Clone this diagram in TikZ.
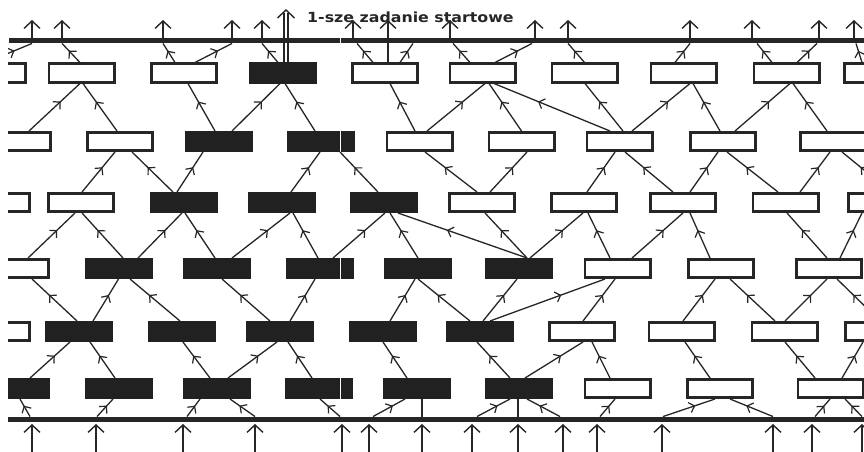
\documentclass[tikz,border=0pt]{standalone}
\usepackage{fontspec}
\usepackage{graphicx}
\usetikzlibrary{arrows.meta,calc,decorations.markings}
\newfontfamily\labelfont{DejaVu Sans}
\definecolor{ink}{gray}{0.15}
\definecolor{inkfill}{gray}{0.13}

% link from the top of a lower box to the bottom of an upper box
\newcommand{\lk}[4]{\draw[link] ($(#1.north)+(#2,0)$) -- ($(#3.south)+(#4,0)$);}
% link from the top of a first-row box to the output bus
\newcommand{\tb}[3]{\draw[link] ($(#1.north)+(#2,0)$) -- (#3,0 |- topbar.south);}
% link from the input bus to the bottom of a last-row box
\newcommand{\bb}[3]{\draw[link] (#1,0 |- botbar.north) -- ($(#2.south)+(#3,0)$);}

\begin{document}
\begin{tikzpicture}[x=1pt,y=-1pt,
  task/.style={draw=ink, line width=2.8pt, fill=white, minimum width=65.2pt,
    minimum height=18.2pt, inner sep=0pt},
  busy/.style={task, fill=inkfill, draw=inkfill},
  bar/.style={fill=ink, draw=none, minimum height=5.5pt, inner sep=0pt},
  link/.style={draw=ink, line width=1.3pt, postaction={decorate},
    decoration={markings, mark=at position 0.62 with
      {\arrow[ink, line width=1.2pt]{Straight Barb[length=5pt,width=10.5pt]}}}},
  wire/.style={draw=ink, line width=1.4pt},
  feed/.style={draw=ink, line width=1.5pt,
    -{Straight Barb[length=7.5pt,width=16pt,line width=1.4pt]}},
]
\useasboundingbox (0,0) rectangle (864,452);
\fill[white] (0,0) rectangle (864,452);
\clip (8,0) rectangle (864,452);

% buses
\node[bar, minimum width=855pt, anchor=west] (topbar) at (9,40.5) {};
\node[bar, minimum width=856pt, anchor=west] (botbar) at (8,419.5) {};

% row 1
\foreach \n/\x/\s in {0/-7/task,1/81.5/task,2/184/task,3/283/busy,4/385/task,
  5/482.5/task,6/584.5/task,7/683.5/task,8/786.5/task,9/877/task}
  \node[\s] (A\n) at (\x,73) {};
% row 2
\foreach \n/\x/\s in {0/18/task,1/120/task,2/219/busy,3/321/busy,4/419.5/task,
  5/521.5/task,6/619.5/task,7/723/task,8/833/task}
  \node[\s] (B\n) at (\x,141.5) {};
% row 3
\foreach \n/\x/\s in {0/-3/task,1/81/task,2/183.5/busy,3/282/busy,4/384/busy,
  5/482/task,6/584/task,7/683/task,8/785.5/task,9/881/task}
  \node[\s] (C\n) at (\x,202.5) {};
% row 4
\foreach \n/\x/\s in {0/16/task,1/118.5/busy,2/217/busy,3/320/busy,4/417.5/busy,
  5/519/busy,6/617.5/task,7/721/task,8/829/task}
  \node[\s] (D\n) at (\x,268.5) {};
% row 5
\foreach \n/\x/\s in {0/-3/task,1/79/busy,2/181.5/busy,3/280/busy,4/382.5/busy,
  5/480/busy,6/582/task,7/681.5/task,8/784.5/task,9/878/task}
  \node[\s] (E\n) at (\x,331.5) {};
% row 6
\foreach \n/\x/\s in {0/16/busy,1/118.5/busy,2/217/busy,3/319/busy,4/417/busy,
  5/518.5/busy,6/617.5/task,7/720/task,8/830.5/task}
  \node[\s] (F\n) at (\x,388.5) {};

% thin seam through the middle column
\draw[white, line width=0.9pt] (340,37) -- (340,400);

% first row to the output bus
\tb{A0}{-7}{32}
\tb{A1}{-1.5}{62}
\tb{A2}{-9}{163}
\tb{A2}{11}{232}
\tb{A3}{-5}{262}
\tb{A4}{-12}{357}
\tb{A4}{15}{413}
\tb{A5}{-12.5}{453}
\tb{A5}{12.5}{532}
\tb{A6}{0}{568}
\tb{A7}{-8.5}{690}
\tb{A8}{-14.5}{757}
\tb{A8}{10.5}{817}
\tb{A9}{-15}{856}

% row 2 to row 1
\lk{B0}{11}{A1}{-1.5}
\lk{B1}{-3}{A1}{1.5}
\lk{B2}{-4}{A2}{4}
\lk{B2}{13}{A3}{-3}
\lk{B3}{-6}{A3}{2}
\lk{B4}{-4.5}{A4}{5}
\lk{B4}{7.5}{A5}{2.5}
\lk{B5}{0}{A5}{6.5}
\lk{B6}{-9.5}{A5}{11.5}
\lk{B6}{3.5}{A6}{0.5}
\lk{B6}{12.5}{A7}{6.5}
\lk{B7}{-3}{A7}{9.5}
\lk{B7}{12}{A8}{3.5}
\lk{B8}{-6}{A8}{6.5}

% row 3 to row 2
\lk{C1}{1}{B1}{-5}
\lk{C2}{-10.5}{B1}{12}
\lk{C2}{-6.5}{B2}{-16}
\lk{C3}{9}{B3}{-1}
\lk{C4}{-6}{B3}{19}
\lk{C5}{-5}{B4}{5.5}
\lk{C5}{8}{B5}{5.5}
\lk{C6}{3}{B6}{-4.5}
\lk{C7}{-10}{B6}{5.5}
\lk{C7}{7}{B7}{-5}
\lk{C8}{-7.5}{B7}{4}
\lk{C8}{14.5}{B8}{-3}
\lk{C9}{10}{B8}{9}

% row 4 to row 3
\lk{D0}{12}{C1}{-6}
\lk{D1}{4.5}{C1}{1}
\lk{D1}{19.5}{C2}{-1.5}
\lk{D2}{-2}{C2}{1.5}
\lk{D2}{15}{C3}{8}
\lk{D3}{-2}{C3}{11}
\lk{D3}{13}{C4}{1}
\lk{D4}{0.5}{C4}{6}
\lk{D5}{8}{C4}{14}
\lk{D5}{8}{C5}{3}
\lk{D5}{11}{C6}{-1}
\lk{D6}{-7.5}{C6}{4}
\lk{D6}{14.5}{C7}{0}
\lk{D7}{-11}{C7}{7}
\lk{D8}{-2}{C8}{1.5}
\lk{D8}{11}{C9}{-19}

% row 5 to row 4
\lk{E1}{-2}{D0}{16}
\lk{E1}{14}{D1}{0}
\lk{E2}{-1.5}{D1}{11.5}
\lk{E3}{-10}{D2}{5}
\lk{E3}{10}{D3}{-5}
\lk{E4}{7.5}{D4}{-2.5}
\lk{E5}{-10}{D4}{0.5}
\lk{E5}{3}{D5}{-2}
\lk{E5}{10}{D6}{-12.5}
\lk{E6}{1}{D6}{-2.5}
\lk{E7}{1.5}{D7}{-6}
\lk{E8}{-9.5}{D7}{9}
\lk{E8}{0.5}{D8}{-2}
\lk{E9}{2}{D8}{8}

% row 6 to row 5
\lk{F0}{14}{E1}{-9}
\lk{F1}{-3.5}{E1}{11}
\lk{F2}{-7}{E2}{1.5}
\lk{F2}{11}{E3}{-3}
\lk{F3}{-7}{E3}{8}
\lk{F4}{-10}{E4}{0.5}
\lk{F5}{-8.5}{E5}{-3}
\lk{F5}{6.5}{E6}{1}
\lk{F6}{-7.5}{E6}{10}
\lk{F7}{-10}{E7}{3.5}
\lk{F8}{-15.5}{E8}{0.5}
\lk{F8}{11.5}{E9}{-15}

% input bus to the last row
\bb{30}{F0}{4}
\bb{97}{F1}{-5.5}
\bb{187}{F2}{-17}
\bb{255}{F2}{13}
\bb{340}{F3}{1}
\bb{373}{F4}{-12}
\bb{477}{F5}{-8.5}
\bb{560}{F5}{8.5}
\bb{600}{F6}{-2.5}
\bb{663}{F7}{-5}
\bb{773}{F7}{10}
\bb{815}{F8}{-0.5}
\bb{862}{F8}{14.5}
\draw[wire] ($(F4.south)+(5,0)$) coordinate (v4) -- (v4 |- botbar.north);
\draw[wire] ($(F5.south)+(-0.5,0)$) coordinate (v5) -- (v5 |- botbar.north);

% outputs above the top bus
\foreach \x in {32,62,163,232,262,353,450,535,568,690,752,819,854} {
  \coordinate (out\x) at (\x,20);
  \draw[feed] (out\x |- topbar.north) -- (out\x);
}
\coordinate (out388) at (388,20);
\draw[feed] ($(A4.north)+(3,0)$) -- (out388);

% inputs below the bottom bus
\foreach \x in {32,96,183,255,342,369,422,472,518,563,597,662,773,812,862} {
  \coordinate (src\x) at (\x,452);
  \draw[feed, shorten >=1.5pt] (src\x) -- (src\x |- botbar.south);
}

% start task: double arrow
\coordinate (starttip) at (286,10);
\draw[wire, line width=1.3pt] ($(A3.north)+(1,0)$) coordinate (s1) -- (s1 |- 0,13);
\draw[wire, line width=1.3pt] ($(A3.north)+(5,0)$) coordinate (s2) -- (s2 |- 0,13);
\draw[wire] ($(starttip)+(-8.5,8)$) -- (starttip) -- ($(starttip)+(8.5,8)$);
\node[anchor=base west, inner sep=0pt, text=ink] (caption) at (307,22.5)
  {\scalebox{1.13}[1]{\labelfont\bfseries\fontsize{14}{15}\selectfont 1-sze zadanie startowe}};
\end{tikzpicture}
\end{document}
